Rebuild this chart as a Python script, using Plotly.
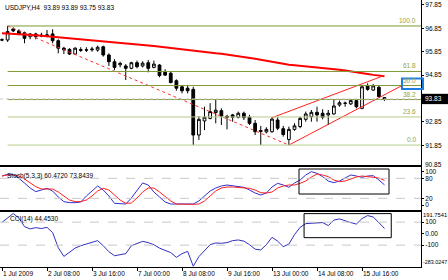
import plotly.graph_objects as go
from plotly.subplots import make_subplots

# ---------------- data ----------------
bars = list(range(69))
opens = [96.36, 96.35, 96.82, 96.74, 96.66, 96.49, 96.61, 96.56, 96.53, 96.61,
         96.32, 96.00, 95.95, 95.75, 95.94, 95.93, 95.93, 95.92, 96.06, 95.71,
         95.42, 95.29, 95.24, 95.14, 95.38, 95.24, 95.38, 95.18, 95.28, 95.00,
         94.93, 94.61, 94.35, 94.29, 94.24, 92.29, 92.89, 93.00, 93.25, 93.33,
         93.09, 93.15, 93.05, 93.22, 93.05, 92.79, 92.44, 92.42, 92.43, 92.93,
         92.56, 92.10, 92.53, 92.65, 92.96, 93.07, 93.26, 93.22, 93.15, 93.19,
         93.57, 93.64, 93.62, 93.76, 93.43, 94.39, 94.21, 94.33, 93.89]
highs = [96.42, 96.95, 96.89, 96.81, 96.71, 96.64, 96.66, 96.66, 96.78, 96.81,
         96.38, 96.06, 96.00, 96.04, 96.04, 96.04, 96.06, 96.11, 96.11, 95.78,
         95.53, 95.42, 95.32, 95.42, 95.47, 95.44, 95.50, 95.47, 95.32, 95.10,
         95.00, 94.67, 94.43, 94.43, 94.35, 93.10, 93.50, 93.65, 93.79, 93.43,
         93.15, 93.19, 93.29, 93.29, 93.15, 92.93, 92.68, 92.62, 93.05, 93.05,
         92.68, 92.65, 92.79, 93.07, 93.29, 93.36, 93.50, 93.39, 93.36, 93.79,
         93.76, 93.72, 93.82, 93.82, 94.43, 94.50, 94.47, 94.39, 93.89]
lows = [96.30, 96.27, 96.69, 96.56, 96.21, 96.38, 96.38, 96.47, 96.47, 96.21,
        95.78, 95.75, 95.71, 95.72, 95.84, 95.84, 95.85, 95.85, 95.64, 95.24,
        95.07, 95.18, 94.64, 95.10, 95.14, 95.18, 94.97, 95.14, 94.76, 94.81,
        94.50, 94.18, 94.07, 94.07, 91.86, 92.08, 92.50, 92.96, 92.79, 92.72,
        92.53, 92.86, 93.00, 92.93, 92.72, 92.29, 91.86, 92.36, 92.39, 92.50,
        92.22, 91.86, 92.47, 92.58, 92.86, 92.86, 92.86, 92.96, 92.72, 93.16,
        93.50, 93.50, 93.57, 93.43, 93.39, 94.18, 94.18, 93.90, 93.75]
closes = [96.35, 96.71, 96.74, 96.61, 96.42, 96.61, 96.49, 96.53, 96.57, 96.32,
          96.00, 95.93, 95.75, 96.00, 95.91, 95.92, 95.96, 96.04, 95.71, 95.42,
          95.18, 95.35, 95.14, 95.38, 95.21, 95.36, 95.14, 95.32, 94.83, 94.85,
          94.53, 94.29, 94.18, 94.18, 92.29, 92.96, 93.05, 93.29, 93.35, 93.10,
          93.05, 93.05, 93.22, 93.03, 92.79, 92.43, 92.48, 92.53, 92.97, 92.58,
          92.31, 92.53, 92.68, 93.00, 93.19, 93.26, 93.15, 93.05, 93.22, 93.53,
          93.67, 93.65, 93.76, 93.50, 94.35, 94.24, 94.39, 93.93, 93.83]
ma_values = [96.64, 96.63, 96.61, 96.60, 96.58, 96.57, 96.55, 96.53, 96.51, 96.49,
             96.47, 96.45, 96.43, 96.41, 96.39, 96.37, 96.35, 96.33, 96.31, 96.28,
             96.26, 96.24, 96.21, 96.19, 96.17, 96.14, 96.12, 96.09, 96.06, 96.03,
             96.00, 95.97, 95.95, 95.92, 95.89, 95.86, 95.84, 95.81, 95.78, 95.76,
             95.73, 95.70, 95.67, 95.63, 95.59, 95.55, 95.51, 95.46, 95.42, 95.37,
             95.32, 95.29, 95.27, 95.25, 95.22, 95.20, 95.18, 95.16, 95.14, 95.11,
             95.08, 95.05, 95.02, 94.98, 94.94, 94.90, 94.86, 94.83, 94.80]
stoch_main = [87, 92, 91, 80, 66, 51, 40, 45, 50, 42,
              24, 10, 7, 7, 9, 27, 42, 57, 45, 27,
              5, 3, 3, 21, 45, 66, 60, 39, 24, 9,
              3, 3, 3, 3, 3, 12, 27, 42, 51, 57,
              60, 58, 55, 53, 45, 36, 30, 36, 54, 65,
              60, 53, 66, 75, 90, 100, 95, 85, 72, 67,
              72, 81, 90, 87, 83, 87, 88, 75, 60.47]
stoch_signal = [87, 90, 90, 87, 78, 66, 55, 48, 48, 48,
                39, 27, 15, 10, 10, 15, 27, 42, 50, 45,
                30, 15, 5, 6, 21, 39, 51, 51, 39, 24,
                12, 3, 2, 2, 2, 3, 12, 27, 42, 51,
                54, 54, 53, 50, 50, 45, 37, 36, 39, 51,
                57, 60, 60, 65, 72, 84, 93, 90, 85, 75,
                70, 72, 78, 84, 87, 84, 83, 81, 73.84]
cci_values = [98, 139, 175, 135, 61, 41, 52, 44, 55, 9,
              -122, -198, -161, -126, -105, -90, -78, -61, -105, -157,
              -192, -183, -174, -105, -83, -67, -78, -96, -126, -144,
              -165, -206, -174, -154, -283, -200, -148, -96, -81, -84,
              -78, -61, -55, -65, -96, -135, -142, -96, -32, -65,
              -113, -91, -9, 55, 87, 90, 93, 96, 70, 118,
              128, 109, 96, 83, 131, 157, 144, 96, 44.45]

# drawn objects (bar index, price)
fib_start_bar = 1
fib_high = 96.95
fib_low = 91.86
fib_ratios = [0.0, 23.6, 38.2, 50.0, 61.8, 100.0]
trend_x = [1, 51]
trend_y = [96.95, 91.86]
chan_low_x = [51, 71.1]
chan_low_y = [91.86, 94.40]
chan_up_x = [48, 67.8]
chan_up_y = [93.03, 94.82]
stoch_box_x = [52.8, 68.8]
stoch_box_y = [33, 108]
cci_box_x = [53.7, 69.2]
cci_box_y = [-35, 174]
last_price = 93.83

x_tick_bars = [0, 8, 16, 24, 32, 40, 48, 56, 64]
x_tick_text = ["1 Jul 2009", "2 Jul 08:00", "3 Jul 16:00", "7 Jul 00:00", "8 Jul 08:00",
               "9 Jul 16:00", "13 Jul 00:00", "14 Jul 08:00", "15 Jul 16:00"]
price_ticks = [91.85, 92.85, 94.85, 95.85, 96.85, 97.85]

FONT = "Liberation Sans"
FS = 6.5
W, H = 448, 280
PLOT_W = 421

def py(px):
    return 1 - px / H

fig = make_subplots(rows=3, cols=1, shared_xaxes=True, vertical_spacing=0)

fig.add_trace(go.Candlestick(
    x=bars, open=opens, high=highs, low=lows, close=closes,
    increasing=dict(line=dict(color="black", width=1), fillcolor="white"),
    decreasing=dict(line=dict(color="black", width=1), fillcolor="black"),
    whiskerwidth=0, showlegend=False), row=1, col=1)

fig.add_trace(go.Scatter(x=bars, y=ma_values, mode="lines",
                         line=dict(color="#ff0000", width=2), showlegend=False), row=1, col=1)
fig.add_trace(go.Scatter(x=trend_x, y=trend_y, mode="lines",
                         line=dict(color="#ff3030", width=1, dash="dot"), showlegend=False), row=1, col=1)
fig.add_trace(go.Scatter(x=chan_low_x, y=chan_low_y, mode="lines",
                         line=dict(color="#ff2020", width=1), showlegend=False), row=1, col=1)
fig.add_trace(go.Scatter(x=chan_up_x, y=chan_up_y, mode="lines",
                         line=dict(color="#ff2020", width=1), showlegend=False), row=1, col=1)

fig.add_trace(go.Scatter(x=bars, y=stoch_main, mode="lines",
                         line=dict(color="#3030d0", width=1), showlegend=False), row=2, col=1)
fig.add_trace(go.Scatter(x=bars, y=stoch_signal, mode="lines",
                         line=dict(color="#ff2020", width=1), showlegend=False), row=2, col=1)
fig.add_trace(go.Scatter(x=bars, y=cci_values, mode="lines",
                         line=dict(color="#3030c0", width=1), showlegend=False), row=3, col=1)

xr = [-0.356, -0.356 + PLOT_W / 5.625]
axis_common = dict(showline=True, mirror=True, linecolor="black", linewidth=1,
                   showgrid=False, zeroline=False)
for i in (1, 2, 3):
    key = "xaxis" if i == 1 else f"xaxis{i}"
    fig.layout[key].update(range=xr, rangeslider=dict(visible=False), **axis_common)
    if i < 3:
        fig.layout[key].update(showticklabels=False, ticks="")
fig.layout.xaxis3.update(tickmode="array", tickvals=x_tick_bars, ticktext=x_tick_text,
                         ticks="outside", ticklen=3, tickcolor="black",
                         ticklabelposition="outside right",
                         tickfont=dict(family=FONT, size=FS, color="black"))

ytick = dict(side="right", ticks="outside", ticklen=2, tickcolor="black",
             tickfont=dict(family=FONT, size=FS, color="black"))
fig.layout.yaxis.update(domain=[py(165), 1], range=[91.008, 98.06],
                        tickmode="array", tickvals=price_ticks,
                        ticktext=[f"{v:.2f}" for v in price_ticks], **ytick, **axis_common)
fig.layout.yaxis2.update(domain=[py(210), py(167)], range=[-15, 114],
                         tickmode="array", tickvals=[0, 20, 80, 100],
                         ticktext=["0", "20", "80", "100"], **ytick, **axis_common)
fig.layout.yaxis3.update(domain=[py(267), py(212)], range=[-290, 188],
                         tickmode="array", tickvals=[100, 0, -100],
                         ticktext=["100", "0.00", "-100"], **ytick, **axis_common)

shapes = []
annos = []
fib_colors = {0.0: "#b4cc88", 23.6: "#b4cc88", 38.2: "#7e9a34",
              50.0: "#7e9a34", 61.8: "#7e9a34", 100.0: "#7e9a34"}
for r in fib_ratios:
    lvl = fib_low + (fib_high - fib_low) * r / 100.0
    shapes.append(dict(type="line", xref="x", yref="y", x0=fib_start_bar, x1=xr[1],
                       y0=lvl, y1=lvl, line=dict(color=fib_colors[r], width=1)))
    annos.append(dict(xref="x", yref="y", x=xr[0] + 418 / 5.625, y=lvl, text=f"{r:.1f}",
                      xanchor="right", yanchor="bottom", showarrow=False,
                      font=dict(family=FONT, size=FS, color="#8fa34a")))

# bid line
shapes.append(dict(type="line", xref="x", yref="y", x0=xr[0], x1=xr[1],
                   y0=last_price, y1=last_price, line=dict(color="#c8c8c8", width=1, dash="dot")))
# level lines in indicator windows
for lvl in (80, 20):
    shapes.append(dict(type="line", xref="x2 domain", yref="y2", x0=0, x1=1, y0=lvl, y1=lvl,
                       line=dict(color="#c8c8c8", width=1, dash="dash")))
for lvl in (100, -100):
    shapes.append(dict(type="line", xref="x3 domain", yref="y3", x0=0, x1=1, y0=lvl, y1=lvl,
                       line=dict(color="#c8c8c8", width=1, dash="dash")))
# rectangles on indicator windows
shapes.append(dict(type="rect", xref="x2", yref="y2", x0=stoch_box_x[0], x1=stoch_box_x[1],
                   y0=stoch_box_y[0], y1=stoch_box_y[1], line=dict(color="black", width=1)))
shapes.append(dict(type="rect", xref="x3", yref="y3", x0=cci_box_x[0], x1=cci_box_x[1],
                   y0=cci_box_y[0], y1=cci_box_y[1], line=dict(color="black", width=1)))
# selected label frame (blue)
shapes.append(dict(type="rect", xref="paper", yref="paper", x0=402 / PLOT_W, x1=423 / PLOT_W,
                   y0=py(89), y1=py(78.5), line=dict(color="#1a7ee6", width=2)))
# last price tag
shapes.append(dict(type="rect", xref="paper", yref="y", x0=421.5 / PLOT_W, x1=448 / PLOT_W,
                   y0=last_price - 0.22, y1=last_price + 0.22,
                   line=dict(width=0), fillcolor="black"))
annos.append(dict(xref="paper", yref="y", x=423 / PLOT_W, y=last_price, text=f"{last_price:.2f}",
                  xanchor="left", yanchor="middle", showarrow=False,
                  font=dict(family=FONT, size=FS, color="white")))
annos.append(dict(xref="paper", yref="paper", x=423 / PLOT_W, y=py(164), text="90.85",
                  xanchor="left", yanchor="middle", showarrow=False,
                  font=dict(family=FONT, size=FS, color="black")))
annos.append(dict(xref="paper", yref="paper", x=447.5 / PLOT_W, y=py(215), text="191.7541",
                  xanchor="right", yanchor="middle", showarrow=False, borderpad=0,
                  font=dict(family=FONT, size=5.8, color="black")))
annos.append(dict(xref="paper", yref="paper", x=447.5 / PLOT_W, y=py(262), text="-283.0247",
                  xanchor="right", yanchor="middle", showarrow=False, borderpad=0,
                  font=dict(family=FONT, size=5.4, color="black")))
# window titles
annos.append(dict(xref="paper", yref="paper", x=3 / PLOT_W, y=py(7.5),
                  text="USDJPY,H4  93.89 93.89 93.75 93.83",
                  xanchor="left", yanchor="middle", showarrow=False,
                  font=dict(family=FONT, size=FS, color="black")))
annos.append(dict(xref="paper", yref="paper", x=5 / PLOT_W, y=py(176),
                  text="Stoch(5,3,3) 60.4720 73.8439",
                  xanchor="left", yanchor="middle", showarrow=False,
                  font=dict(family=FONT, size=FS, color="black")))
annos.append(dict(xref="paper", yref="paper", x=8 / PLOT_W, y=py(219),
                  text="CCI(14) 44.4530",
                  xanchor="left", yanchor="middle", showarrow=False,
                  font=dict(family=FONT, size=FS, color="black")))

fig.update_layout(width=W, height=H, margin=dict(l=0, r=W - PLOT_W, t=0, b=0),
                  paper_bgcolor="white", plot_bgcolor="white",
                  shapes=shapes, annotations=annos, showlegend=False,
                  font=dict(family=FONT, size=FS, color="black"))

fig.write_html("out.html")
